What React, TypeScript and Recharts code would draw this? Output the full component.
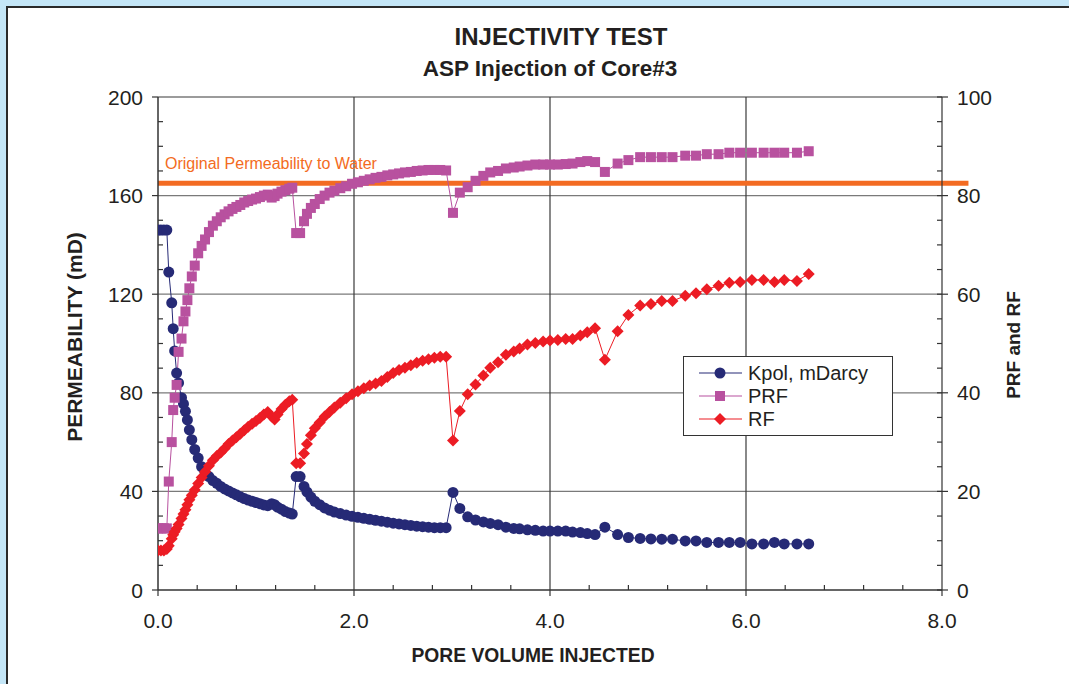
import React from "react";
import { LineChart, Line, XAxis, YAxis, ReferenceLine } from "recharts";

// ---- data ----
const pvInjected = [
  0, 0.03, 0.06, 0.09, 0.11, 0.14, 0.155, 0.17, 0.19, 0.21,
  0.24, 0.26, 0.28, 0.3, 0.32, 0.345, 0.375, 0.41, 0.445, 0.48,
  0.52, 0.56, 0.6, 0.64, 0.68, 0.72, 0.76, 0.8, 0.84, 0.88,
  0.92, 0.96, 1.0, 1.04, 1.08, 1.12, 1.16, 1.19, 1.22, 1.26,
  1.3, 1.34, 1.37,
  1.41, 1.45, 1.49, 1.52, 1.56, 1.6, 1.65, 1.7, 1.75, 1.8,
  1.86, 1.92, 1.98, 2.04, 2.1, 2.16, 2.22, 2.28, 2.34, 2.4,
  2.46, 2.52, 2.58, 2.64, 2.7, 2.76, 2.82, 2.88, 2.94,
  3.01, 3.08, 3.16, 3.24, 3.32, 3.39, 3.47, 3.55, 3.63, 3.69,
  3.77, 3.85, 3.93, 4.0, 4.08, 4.16, 4.23, 4.31, 4.38, 4.46,
  4.56, 4.69, 4.8, 4.92, 5.03, 5.14, 5.25, 5.38, 5.49, 5.6,
  5.72, 5.83, 5.94, 6.06, 6.18, 6.29, 6.39, 6.52, 6.64,
];

const kpol = [
  146, 146, 146, 146, 129, 116.5, 106, 97, 88, 84,
  78, 75.5, 72.5, 69, 65, 61, 57, 53.5, 50, 47.8,
  46, 44.4, 43.3, 42, 41, 40.2, 39.4, 38.6, 37.8, 37.1,
  36.5, 36, 35.5, 35, 34.5, 34.2, 35, 34.6, 33.6, 32.8,
  31.8, 31.2, 30.8,
  46, 46, 42, 39.8, 37.7, 36, 34.6, 33.3, 32.4, 31.6,
  31, 30.4, 29.9, 29.5, 29.1, 28.7, 28.3, 27.9, 27.5, 27.1,
  26.8, 26.5, 26.2, 25.9, 25.7, 25.5, 25.3, 25.3, 25.3,
  39.6, 33.1, 29.7, 28.4, 27.6, 27, 26.5, 25.5, 25, 24.8,
  24.4, 24.2, 23.9, 23.9, 23.9, 23.9, 23.5, 23.3, 22.9, 22.5,
  25.5, 22.5, 21.3, 20.9, 20.7, 20.6, 20.6, 19.9, 19.9, 19.3,
  19.3, 19.3, 19.3, 18.7, 18.7, 19.3, 18.7, 18.7, 18.7,
];

const prf = [
  12.5, 12.5, 12.5, 12.5, 22, 30, 36.5, 39, 41.6, 48.3,
  51, 54.5, 56.5, 58.8, 61.2, 63.6, 65.8, 68.3, 69.8, 71.1,
  72.6, 73.9, 74.8, 75.6, 76.2, 76.8, 77.3, 77.7, 78.1, 78.6,
  78.9, 79.2, 79.4, 79.7, 80, 80.2, 79.6, 79.9, 80.4, 80.8,
  81.1, 81.4, 81.6,
  72.4, 72.4, 74.8, 76.3, 77.5, 78.3, 79.3, 80, 80.6, 81,
  81.5, 81.9, 82.4, 82.7, 83, 83.3, 83.6, 83.8, 84.1, 84.3,
  84.5, 84.7, 84.8, 85, 85.1, 85.2, 85.2, 85.2, 85.1,
  76.5, 80.6, 81.7, 83, 84, 84.7, 85, 85.5, 85.7, 85.9,
  86.1, 86.3, 86.3, 86.3, 86.3, 86.4, 86.5, 86.8, 87.0, 86.8,
  84.8, 86.5, 87.2, 87.8, 87.8, 87.8, 87.8, 88.1, 88.1, 88.4,
  88.4, 88.7, 88.7, 88.7, 88.7, 88.7, 88.7, 88.7, 89,
];

const rf = [
  8, 8, 8, 8.3, 9, 10.4, 11.2, 11.8, 12.5, 13.3,
  14.5, 15.4, 16.3, 17.3, 18.3, 19.2, 20.3, 21.6, 22.8, 24,
  25.2, 26.3, 27.2, 27.9, 28.7, 29.6, 30.3, 31, 31.7, 32.4,
  33.1, 33.7, 34.3, 34.9, 35.6, 36.1, 35.2, 34.6, 35.6, 36.7,
  37.6, 38.3, 38.6,
  25.7, 25.7, 27.7, 29.6, 31.4, 32.8, 34, 35.2, 36.1, 37,
  38, 38.9, 39.7, 40.3, 40.9, 41.5, 41.9, 42.4, 43.2, 44,
  44.6, 45.1, 45.6, 46.1, 46.5, 46.8, 47.1, 47.3, 47.3,
  30.3, 36.3, 39.7, 41.7, 43.5, 45.1, 46.2, 47.7, 48.4, 49,
  49.8, 50.1, 50.4, 50.6, 50.7, 50.9, 50.9, 51.6, 52.3, 53.1,
  46.7, 52.5, 55.8, 57.7, 58, 58.6, 58.6, 59.7, 60.2, 61,
  61.7, 62.3, 62.5, 62.9, 62.9, 62.5, 62.9, 62.7, 64.1,
];

const xTicks = Array.from({ length: 21 }, (_, i) => +(i * 0.4).toFixed(1));
const leftTicks = Array.from({ length: 21 }, (_, i) => i * 10);
const rightTicks = Array.from({ length: 21 }, (_, i) => i * 5);
const xGrid = [2, 4, 6];
const yGrid = [40, 80, 120, 160, 200];
const ORIGINAL_PERM = 165;
const ORIGINAL_PERM_LINE_END = 8.27;

const NAVY = "#262a76";
const MAGENTA = "#b8519f";
const RED = "#ec1c24";
const ORANGE = "#f36b22";
const FONT = "'Liberation Sans', Arial, Helvetica, sans-serif";
const TXT = "#231f20";

const data = pvInjected.map((x, i) => ({ x, kpol: kpol[i], prf: prf[i], rf: rf[i] }));

const isMajor = (v: number, step: number) => Math.abs(v / step - Math.round(v / step)) < 1e-6;

const XTick = (p: any) => {
  const { x, y, payload } = p;
  const v = payload.value;
  if (isMajor(v, 2)) {
    return (
      <g>
        <line x1={x} x2={x} y1={y} y2={y + 6} stroke="#333" strokeWidth={1.2} />
        <text x={x} y={y + 38} textAnchor="middle" fontSize={21} fill={TXT} fontFamily={FONT}>
          {v.toFixed(1)}
        </text>
      </g>
    );
  }
  return <line x1={x} x2={x} y1={y - 5} y2={y} stroke="#333" strokeWidth={1.2} />;
};

const LeftTick = (p: any) => {
  const { x, y, payload } = p;
  const v = payload.value;
  if (isMajor(v, 40)) {
    return (
      <g>
        <line x1={x - 6} x2={x} y1={y} y2={y} stroke="#333" strokeWidth={1.2} />
        <text x={x - 15} y={y} dy="0.36em" textAnchor="end" fontSize={21} fill={TXT} fontFamily={FONT}>
          {v}
        </text>
      </g>
    );
  }
  return <line x1={x} x2={x + 5} y1={y} y2={y} stroke="#333" strokeWidth={1.2} />;
};

const RightTick = (p: any) => {
  const { x, y, payload } = p;
  const v = payload.value;
  if (isMajor(v, 20)) {
    return (
      <g>
        <line x1={x - 5} x2={x + 6} y1={y} y2={y} stroke="#333" strokeWidth={1.2} />
        <text x={x + 15} y={y} dy="0.36em" textAnchor="start" fontSize={21} fill={TXT} fontFamily={FONT}>
          {v}
        </text>
      </g>
    );
  }
  return <line x1={x - 5} x2={x} y1={y} y2={y} stroke="#333" strokeWidth={1.2} />;
};

const CircleDot = (p: any) =>
  p.cx == null ? null : <circle key={`k${p.index}`} cx={p.cx} cy={p.cy} r={5.5} fill={NAVY} />;
const SquareDot = (p: any) =>
  p.cx == null ? null : (
    <rect key={`p${p.index}`} x={p.cx - 5} y={p.cy - 5} width={10} height={10} fill={MAGENTA} />
  );
const DiamondDot = (p: any) =>
  p.cx == null ? null : (
    <polygon
      key={`r${p.index}`}
      points={`${p.cx},${p.cy - 6} ${p.cx + 6},${p.cy} ${p.cx},${p.cy + 6} ${p.cx - 6},${p.cy}`}
      fill={RED}
    />
  );

const legendItems = [
  { name: "Kpol, mDarcy", color: NAVY, shape: "circle" },
  { name: "PRF", color: MAGENTA, shape: "square" },
  { name: "RF", color: RED, shape: "diamond" },
];

export default function App() {
  return (
    <div
      style={{
        position: "fixed",
        left: 0,
        top: 0,
        width: 1069,
        height: 684,
        overflow: "hidden",
        background: "#c4e6f7",
        fontFamily: FONT,
      }}
    >
      <div
        style={{
          position: "absolute",
          left: 6,
          top: 6,
          width: 1100,
          height: 720,
          background: "#fff",
          borderLeft: "2px solid #2a2a2a",
          borderTop: "2px solid #2a2a2a",
        }}
      />
      <div style={{ position: "absolute", left: 0, top: 0 }}>
        <LineChart
          width={1069}
          height={684}
          data={data}
          margin={{ top: 97, right: 67, bottom: 54, left: 98 }}
        >
          <XAxis
            type="number"
            dataKey="x"
            domain={[0, 8]}
            ticks={xTicks}
            interval={0}
            tickSize={0}
            tickMargin={0}
            tickLine={false}
            tick={<XTick />}
            axisLine={{ stroke: "#333", strokeWidth: 1.5 }}
            height={40}
            allowDataOverflow
          />
          <YAxis
            yAxisId="left"
            type="number"
            domain={[0, 200]}
            ticks={leftTicks}
            interval={0}
            tickSize={0}
            tickMargin={0}
            tickLine={false}
            tick={<LeftTick />}
            axisLine={{ stroke: "#333", strokeWidth: 1.5 }}
            width={60}
          />
          <YAxis
            yAxisId="right"
            orientation="right"
            type="number"
            domain={[0, 100]}
            ticks={rightTicks}
            interval={0}
            tickSize={0}
            tickMargin={0}
            tickLine={false}
            tick={<RightTick />}
            axisLine={{ stroke: "#333", strokeWidth: 1.2 }}
            width={60}
          />
          {yGrid.map((v) => (
            <ReferenceLine key={`hy${v}`} yAxisId="left" y={v} stroke="#7a7a7a" strokeWidth={1.3} />
          ))}
          {xGrid.map((v) => (
            <ReferenceLine key={`vx${v}`} yAxisId="left" x={v} stroke="#3a3a3a" strokeWidth={1.2} />
          ))}
          <ReferenceLine
            yAxisId="left"
            segment={[
              { x: 0, y: ORIGINAL_PERM },
              { x: ORIGINAL_PERM_LINE_END, y: ORIGINAL_PERM },
            ]}
            ifOverflow="visible"
            stroke={ORANGE}
            strokeWidth={5}
          />
          <Line
            yAxisId="left"
            dataKey="kpol"
            stroke={NAVY}
            strokeWidth={1}
            dot={CircleDot}
            activeDot={false}
            isAnimationActive={false}
          />
          <Line
            yAxisId="right"
            dataKey="prf"
            stroke={MAGENTA}
            strokeWidth={1}
            dot={SquareDot}
            activeDot={false}
            isAnimationActive={false}
          />
          <Line
            yAxisId="right"
            dataKey="rf"
            stroke={RED}
            strokeWidth={1}
            dot={DiamondDot}
            activeDot={false}
            isAnimationActive={false}
          />
        </LineChart>
      </div>
      <svg
        width={1069}
        height={684}
        style={{ position: "absolute", left: 0, top: 0, pointerEvents: "none" }}
      >
        <text x={561} y={45} textAnchor="middle" fontSize={24} fontWeight="bold" fill={TXT} fontFamily={FONT}>
          INJECTIVITY TEST
        </text>
        <text x={550} y={76} textAnchor="middle" fontSize={22.5} fontWeight="bold" fill={TXT} fontFamily={FONT}>
          ASP Injection of Core#3
        </text>
        <text x={533} y={662} textAnchor="middle" fontSize={19.3} fontWeight="bold" fill={TXT} fontFamily={FONT}>
          PORE VOLUME INJECTED
        </text>
        <text
          transform="translate(82,337) rotate(-90)"
          textAnchor="middle"
          fontSize={21}
          fontWeight="bold"
          fill={TXT}
          fontFamily={FONT}
        >
          PERMEABILITY (mD)
        </text>
        <text
          transform="translate(1020,345) rotate(-90)"
          textAnchor="middle"
          fontSize={19}
          fontWeight="bold"
          fill={TXT}
          fontFamily={FONT}
        >
          PRF and RF
        </text>
        <text x={165} y={169} fontSize={16} fill={ORANGE} fontFamily={FONT}>
          Original Permeability to Water
        </text>
      </svg>
      <div
        style={{
          position: "absolute",
          left: 683,
          top: 356,
          width: 208,
          height: 78,
          background: "#fff",
          border: "1px solid #333",
        }}
      >
        <svg width={208} height={78}>
          {legendItems.map((it, i) => {
            const cy = 16 + i * 23;
            const cx = 36;
            return (
              <g key={it.name}>
                <line x1={15} x2={58} y1={cy} y2={cy} stroke={it.color} strokeWidth={1.2} />
                {it.shape === "circle" && <circle cx={cx} cy={cy} r={5.5} fill={it.color} />}
                {it.shape === "square" && (
                  <rect x={cx - 5} y={cy - 5} width={10} height={10} fill={it.color} />
                )}
                {it.shape === "diamond" && (
                  <polygon
                    points={`${cx},${cy - 6} ${cx + 6},${cy} ${cx},${cy + 6} ${cx - 6},${cy}`}
                    fill={it.color}
                  />
                )}
                <text x={64} y={cy} dy="0.36em" fontSize={20} fill={TXT} fontFamily={FONT}>
                  {it.name}
                </text>
              </g>
            );
          })}
        </svg>
      </div>
    </div>
  );
}
